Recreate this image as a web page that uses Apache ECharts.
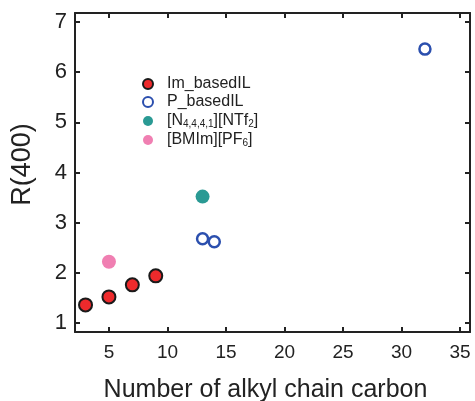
<!DOCTYPE html>
<html>
<head>
<meta charset="utf-8">
<script src="https://cdn.jsdelivr.net/npm/echarts@6/dist/echarts.min.js"></script>
<style>
  html, body { margin: 0; padding: 0; background: #fff; }
  #chart { width: 475px; height: 401px; }
</style>
</head>
<body>
<div id="chart"></div>
<script>
// data
let imCarbon = [3, 5, 7, 9]
let imR = [1.36, 1.52, 1.76, 1.94]
let pCarbon = [13, 14, 32]
let pR = [2.68, 2.62, 6.46]
let ntfCarbon = [13]
let ntfR = [3.52]
let pf6Carbon = [5]
let pf6R = [2.22]

let xTicks = [5, 10, 15, 20, 25, 30, 35]
let yTicks = [1, 2, 3, 4, 5, 6, 7]

let names = ['Im_basedIL', 'P_basedIL', '[N4,4,4,1][NTf2]', '[BMIm][PF6]']
let legendText = {
  'Im_basedIL': 'Im_basedIL',
  'P_basedIL': 'P_basedIL',
  '[N4,4,4,1][NTf2]': '[N{sub|4,4,4,1}][NTf{sub|2}]',
  '[BMIm][PF6]': '[BMIm][PF{sub|6}]'
}

function pairs(xs, ys) {
  return xs.map((x, i) => [x, ys[i]])
}

let font = 'Liberation Sans, Arial, sans-serif'
let axisColor = '#222'

let chart = echarts.init(document.getElementById('chart'))
let frameX = {
  type: 'value', min: 2.1, max: 35.85,
  axisLine: { show: true, onZero: false, lineStyle: { color: axisColor, width: 2 } },
  axisTick: { show: true, inside: true, length: 5, customValues: xTicks, lineStyle: { color: axisColor, width: 2 } },
  splitLine: { show: false }
}
let frameY = {
  type: 'value', min: 0.82, max: 7.18,
  axisLine: { show: true, onZero: false, lineStyle: { color: axisColor, width: 2 } },
  axisTick: { show: true, inside: true, length: 5, customValues: yTicks, lineStyle: { color: axisColor, width: 2 } },
  splitLine: { show: false }
}

chart.setOption({
  animation: false,
  textStyle: { fontFamily: font },
  grid: { left: 75, right: 5, top: 13, bottom: 69, outerBoundsMode: 'none', containLabel: false },
  legend: {
    data: names,
    orient: 'vertical',
    left: 137, top: 71,
    itemWidth: 28, itemHeight: 10, itemGap: 2,
    icon: 'circle',
    textStyle: {
      fontFamily: font, fontSize: 16, lineHeight: 16, color: '#222',
      rich: { sub: { fontSize: 10, lineHeight: 16, verticalAlign: 'bottom', padding: [7, 0, 0, 0], fontFamily: font, color: '#222' } }
    },
    formatter: n => legendText[n]
  },
  xAxis: [
    Object.assign({}, frameX, {
      position: 'bottom',
      name: 'Number of alkyl chain carbon',
      nameLocation: 'middle', nameGap: 46,
      nameTextStyle: { fontSize: 25, color: '#222', fontFamily: font, padding: [0, 14, 0, 0] },
      axisLabel: { customValues: xTicks, margin: 11, fontSize: 19, color: '#222', fontFamily: font }
    }),
    Object.assign({}, frameX, { position: 'top', axisLabel: { show: false } })
  ],
  yAxis: [
    Object.assign({}, frameY, {
      position: 'left',
      name: 'R(400)',
      nameLocation: 'middle', nameGap: 39,
      nameTextStyle: { fontSize: 27, color: '#222', fontFamily: font, padding: [0, 0, 0, 16] },
      axisLabel: { customValues: yTicks, margin: 8, fontSize: 22, color: '#222', fontFamily: font }
    }),
    Object.assign({}, frameY, { position: 'right', axisLabel: { show: false } })
  ],
  series: [
    {
      name: 'Im_basedIL', type: 'scatter', symbolSize: 13,
      data: pairs(imCarbon, imR),
      itemStyle: { color: '#ee2a2c', borderColor: '#1a1a1a', borderWidth: 2, opacity: 1 }
    },
    {
      name: 'P_basedIL', type: 'scatter', symbolSize: 11,
      data: pairs(pCarbon, pR),
      itemStyle: { color: '#fff', borderColor: '#2b4fae', borderWidth: 2.5, opacity: 1 }
    },
    {
      name: '[N4,4,4,1][NTf2]', type: 'scatter', symbolSize: 14,
      data: pairs(ntfCarbon, ntfR),
      itemStyle: { color: '#2a9a94', opacity: 1 }
    },
    {
      name: '[BMIm][PF6]', type: 'scatter', symbolSize: 14,
      data: pairs(pf6Carbon, pf6R),
      itemStyle: { color: '#f07fb2', opacity: 1 }
    }
  ]
})
</script>
</body>
</html>
